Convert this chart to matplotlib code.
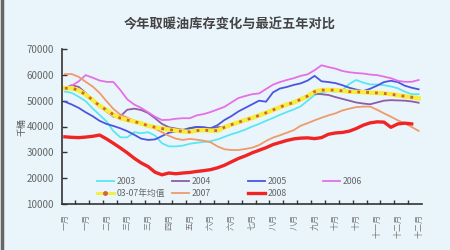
import numpy as np
import matplotlib
matplotlib.use("Agg")
import matplotlib.pyplot as plt
from matplotlib.lines import Line2D

plt.rcParams['font.family'] = ['Noto Sans CJK SC', 'DejaVu Sans']

# 周度库存, 千桶
y2003 = [53500, 53000, 51500, 49800, 47000, 44500, 42000, 38200, 35800, 35800,
         37800, 37400, 37800, 36500, 33500, 32300, 32300, 32600, 33300, 33700,
         34000, 34300, 35000, 36000, 37000, 37800, 38800, 40000, 41000, 42200,
         43300, 44500, 45600, 46600, 47800, 50000, 52200, 53000, 53800, 53500,
         54000, 56500, 58000, 57000, 56300, 56200, 56000, 55500, 54800, 53500,
         52500, 52500]
y2004 = [54800, 56000, 55300, 53000, 50300, 48000, 45800, 43800, 44000, 46500,
         46900, 46400, 45200, 43200, 41000, 39700, 39200, 38700, 39400, 39800,
         39600, 39300, 39700, 39900, 40800, 41700, 42600, 43500, 44400, 45400,
         46500, 47600, 48600, 49600, 50800, 52000, 52700, 52500, 52200, 51400,
         50700, 50000, 49300, 48900, 48600, 49300, 50000, 50200, 50100, 50000,
         49700, 49200]
y2005 = [49600, 48500, 47200, 45500, 44000, 42200, 41000, 40200, 39300, 38200,
         36800, 35300, 34800, 35000, 36300, 37600, 38000, 38400, 39300, 39800,
         39700, 39300, 40500, 42500, 44000, 45800, 47200, 48600, 50000, 49600,
         53200, 54700, 55300, 56100, 56700, 57800, 59600, 57500, 57200, 56800,
         56000, 55000, 54300, 53700, 54600, 55800, 57200, 57700, 57200, 55800,
         55000, 54400]
y2006 = [54800, 55800, 57500, 59900, 58900, 57800, 57300, 57200, 54100, 50500,
         48500, 47200, 45500, 43800, 42500, 42600, 43000, 43200, 43200, 44300,
         44800, 45600, 46600, 47600, 49300, 51000, 51800, 52500, 52800, 54500,
         56200, 57200, 58000, 58700, 59600, 60200, 61800, 63700, 63000, 62400,
         61500, 61000, 60700, 60500, 60100, 59900, 59300, 58700, 57700, 57300,
         57300, 58000]
y2007 = [60300, 60300, 59200, 57300, 55500, 53000, 49800, 46800, 44600, 43400,
         42300, 41200, 40200, 39200, 37800, 36400, 35300, 34800, 35200, 34900,
         34500, 33900, 32300, 31200, 30900, 30900, 31300, 31800, 32800, 34400,
         35700, 36600, 37600, 38600, 40300, 41300, 42400, 43400, 44300, 45100,
         46200, 46900, 47500, 47700, 47700, 46500, 45100, 43800, 42400, 41200,
         39800, 38300]
y2008 = [36000, 35800, 35700, 35900, 36200, 36700, 35200, 33500, 31700, 29800,
         27700, 25900, 24500, 22300, 21300, 22000, 21700, 22000, 22200, 22600,
         22900, 23300, 24000, 25000, 26300, 27600, 28600, 29800, 30800, 31800,
         33000, 33800, 34600, 35200, 35500, 35600, 35300, 35700, 37000, 37500,
         37700, 38200, 39200, 40500, 41400, 41800, 41700, 39700, 41000, 41300,
         41000]
avg = [54800, 54800, 54000, 52300, 50300, 48000, 46400, 44600, 43200, 42500,
       41900, 41200, 40300, 39700, 39200, 38800, 38400, 38100, 37900, 38400,
       38600, 38400, 38400, 39700, 40700, 41600, 42500, 43300, 44300, 45300,
       46400, 47500, 48500, 49300, 50500, 51800, 53500, 54100, 54100, 54100,
       53800, 53500, 53400, 53300, 53100, 53000, 52800, 52500, 52100, 51700,
       51300, 50900]

month_labels = ['一月', '一月', '二月', '三月', '三月', '四月', '五月', '六月', '六月',
                '七月', '八月', '八月', '九月', '十月', '十月', '十一月', '十二月', '十二月']

bg = '#eaf5fb'
c2003 = '#5ae6f2'
c2004 = '#8c5ca8'
c2005 = '#4b55e0'
c2006 = '#e46fe6'
c2007 = '#f09a6a'
c2008 = '#f02424'
cavg = '#f5ee3a'
cdot = '#d8603a'

fig = plt.figure(figsize=(4.5, 2.5), dpi=100, facecolor=bg)
ax = fig.add_axes([0.138, 0.184, 0.8, 0.62], facecolor=bg)

w = np.arange(52)
ax.plot(w, y2003, color=c2003, lw=1.3)
ax.plot(w, y2004, color=c2004, lw=1.3)
ax.plot(w, y2005, color=c2005, lw=1.3)
ax.plot(w, y2006, color=c2006, lw=1.3)
ax.plot(w, y2007, color=c2007, lw=1.3)
ax.plot(w, avg, color=cavg, lw=3.2)
ax.plot(w, avg, color=cdot, lw=2.0, linestyle=(0, (1, 2.2)))
ax.plot(w[:len(y2008)], y2008, color=c2008, lw=2.4)

ax.set_xlim(-0.4, 51.5)
ax.set_ylim(10000, 70000)
ax.set_yticks(range(10000, 70001, 10000))
ax.set_xticks(np.arange(0, 52, 3))
ax.set_xticklabels(month_labels, rotation=90, fontsize=5.8, color='#777777')
ax.set_xticks(np.arange(1.5, 51.5, 2), minor=True)
ax.tick_params(axis='x', which='major', length=0, pad=7)
ax.tick_params(axis='x', which='minor', direction='in', length=3, width=1, color='#333333')
ax.tick_params(axis='y', direction='in', length=3.5, width=1, color='#333333',
               labelsize=7, labelcolor='#666666', pad=6)

for s in ['top', 'right']:
    ax.spines[s].set_visible(False)
for s in ['left', 'bottom']:
    ax.spines[s].set_color('#333333')
    ax.spines[s].set_linewidth(1.2)

fig.text(0.51, 0.9, '今年取暖油库存变化与最近五年对比', ha='center', va='center',
         fontsize=9.5, fontweight='bold', color='#444444')
fig.text(0.05, 0.49, '千桶', rotation=90, ha='center', va='center',
         fontsize=6.5, color='#555555')

# legend: 4 columns of equal width, like the Excel original
cols = [
    [Line2D([], [], color=c2003, lw=1.3), Line2D([], [], color=cavg, lw=2, marker='o',
                                                 ms=2.5, mfc=cdot, mec=cdot)],
    [Line2D([], [], color=c2004, lw=1.3), Line2D([], [], color=c2007, lw=1.3)],
    [Line2D([], [], color=c2005, lw=1.3), Line2D([], [], color=c2008, lw=2.4)],
    [Line2D([], [], color=c2006, lw=1.3)],
]
names = [['2003', '03-07年均值'], ['2004', '2007'], ['2005', '2008'], ['2006']]
xs = [97, 172, 248, 323]
for hs, ns, x in zip(cols, names, xs):
    leg = fig.legend(hs, ns, loc='upper left', bbox_to_anchor=(x / 450, 1 - 177 / 250),
                     frameon=False, fontsize=6.3, handlelength=1.9, handletextpad=0.3,
                     labelspacing=0.35, borderpad=0, borderaxespad=0, numpoints=1,
                     labelcolor='#666666')

fig.add_artist(Line2D([0.004, 0.004], [0, 1], transform=fig.transFigure,
                      color='#666666', lw=2.5))

fig.savefig('out.png', dpi=100, facecolor=bg)
